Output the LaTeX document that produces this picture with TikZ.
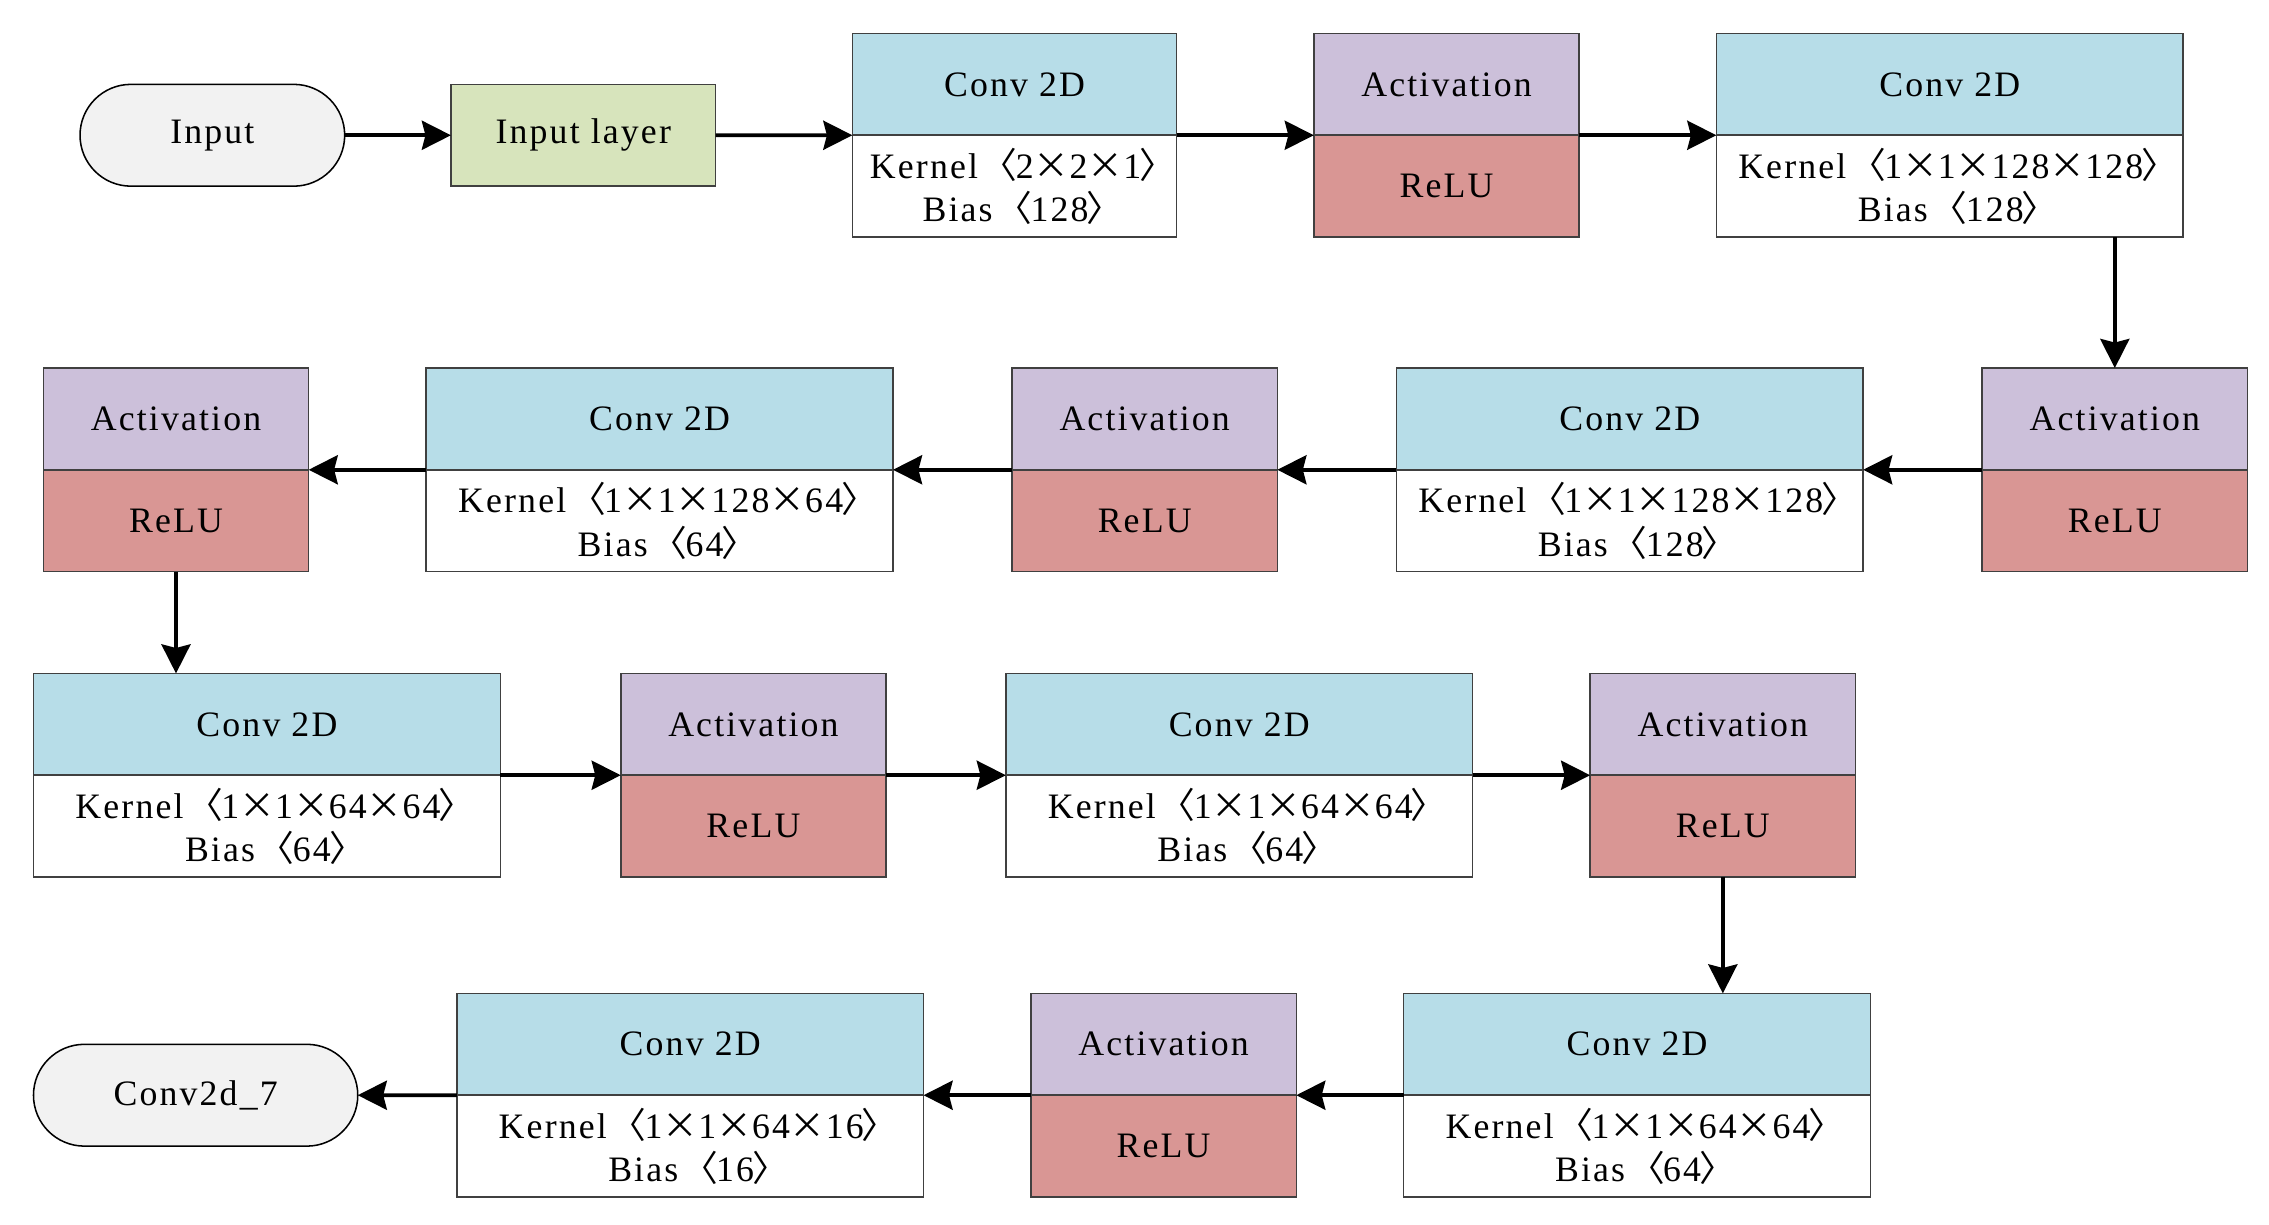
\documentclass[tikz,border=0pt]{standalone}
\usepackage{fontspec}
\setmainfont{Liberation Serif}[LetterSpace=6.0]
\newfontfamily\cjk{Noto Sans CJK SC}
\usetikzlibrary{arrows.meta,shapes.misc}
\definecolor{convblue}{HTML}{B7DDE8}
\definecolor{actpurple}{HTML}{CCC0DA}
\definecolor{relured}{HTML}{D99694}
\definecolor{inlayer}{HTML}{D7E4BC}
\definecolor{pillgray}{HTML}{F2F2F2}
\definecolor{edgegray}{HTML}{404040}
\newcommand{\lb}{\kern-0.2em{\cjk 〈}\kern-0.05em}
\newcommand{\rb}{\kern-0.05em{\cjk 〉}\kern-0.45em}
\newcommand{\tm}{{\cjk ×}}
\tikzset{
  part/.style={draw=edgegray, line width=0.6pt, minimum height=1.4cm, inner sep=0pt, outer sep=0pt, align=center, font=\fontsize{14pt}{17pt}\selectfont},
  wconv/.style={minimum width=6.42cm},
  wconvs/.style={minimum width=4.46cm},
  wact/.style={minimum width=3.65cm},
  convtop/.style={part, fill=convblue},
  convbot/.style={part, fill=white},
  acttop/.style={part, fill=actpurple, wact},
  actbot/.style={part, fill=relured, wact},
  layerbox/.style={part, fill=inlayer, minimum width=3.64cm},
  pill/.style={part, draw=black, fill=pillgray, rounded rectangle},
  flow/.style={-{Stealth[length=0.4cm,width=0.4cm,inset=0.05cm]}, line width=1.4pt, black}
}
\begin{document}
\begin{tikzpicture}[x=0.02cm,y=-0.02cm]
\useasboundingbox (0,0) rectangle (1560,842.2);
% Row 1
\node[pill, minimum width=3.64cm] (in) at (146,93) {Input};
\node[layerbox] (il) at (401,93) {Input layer};
\node[convtop, wconvs] (c1t) at (697.5,58) {Conv 2D};
\node[convbot, wconvs] (c1b) at (697.5,128) {Kernel \lb2\tm2\tm1\rb\\Bias \lb128\rb};
\node[acttop] (a1t) at (994.5,58) {Activation};
\node[actbot] (a1b) at (994.5,128) {ReLU};
\node[convtop, wconv] (c2t) at (1340.5,58) {Conv 2D};
\node[convbot, wconv] (c2b) at (1340.5,128) {Kernel \lb1\tm1\tm128\tm128\rb\\Bias \lb128\rb};
% Row 2
\node[acttop] (a2t) at (1454,288) {Activation};
\node[actbot] (a2b) at (1454,358) {ReLU};
\node[convtop, wconv] (c3t) at (1120.5,288) {Conv 2D};
\node[convbot, wconv] (c3b) at (1120.5,358) {Kernel \lb1\tm1\tm128\tm128\rb\\Bias \lb128\rb};
\node[acttop] (a3t) at (787,288) {Activation};
\node[actbot] (a3b) at (787,358) {ReLU};
\node[convtop, wconv] (c4t) at (453.5,288) {Conv 2D};
\node[convbot, wconv] (c4b) at (453.5,358) {Kernel \lb1\tm1\tm128\tm64\rb\\Bias \lb64\rb};
\node[acttop] (a4t) at (121,288) {Activation};
\node[actbot] (a4b) at (121,358) {ReLU};
% Row 3
\node[convtop, wconv] (c5t) at (183.5,498) {Conv 2D};
\node[convbot, wconv] (c5b) at (183.5,568) {Kernel \lb1\tm1\tm64\tm64\rb\\Bias \lb64\rb};
\node[acttop] (a5t) at (518,498) {Activation};
\node[actbot] (a5b) at (518,568) {ReLU};
\node[convtop, wconv] (c6t) at (852,498) {Conv 2D};
\node[convbot, wconv] (c6b) at (852,568) {Kernel \lb1\tm1\tm64\tm64\rb\\Bias \lb64\rb};
\node[acttop] (a6t) at (1184.5,498) {Activation};
\node[actbot] (a6b) at (1184.5,568) {ReLU};
% Row 4
\node[convtop, wconv] (c7t) at (1125.5,718) {Conv 2D};
\node[convbot, wconv] (c7b) at (1125.5,788) {Kernel \lb1\tm1\tm64\tm64\rb\\Bias \lb64\rb};
\node[acttop] (a7t) at (800,718) {Activation};
\node[actbot] (a7b) at (800,788) {ReLU};
\node[convtop, wconv] (c8t) at (474.5,718) {Conv 2D};
\node[convbot, wconv] (c8b) at (474.5,788) {Kernel \lb1\tm1\tm64\tm16\rb\\Bias \lb16\rb};
\node[pill, minimum width=4.46cm] (out) at (134.5,753) {Conv2d\_7};
% Connectors
\draw[flow] (in.east) -- (il.west);
\draw[flow] (il.east) -- (c1t.south west);
\draw[flow] (c1t.south east) -- (a1t.south west);
\draw[flow] (a1t.south east) -- (c2t.south west);
\draw[flow] (c2b.south -| a2t.north) -- (a2t.north);
\draw[flow] (a2t.south west) -- (c3t.south east);
\draw[flow] (c3t.south west) -- (a3t.south east);
\draw[flow] (a3t.south west) -- (c4t.south east);
\draw[flow] (c4t.south west) -- (a4t.south east);
\draw[flow] (a4b.south) -- (a4b.south |- c5t.north);
\draw[flow] (c5t.south east) -- (a5t.south west);
\draw[flow] (a5t.south east) -- (c6t.south west);
\draw[flow] (c6t.south east) -- (a6t.south west);
\draw[flow] (a6b.south) -- (a6b.south |- c7t.north);
\draw[flow] (c7t.south west) -- (a7t.south east);
\draw[flow] (a7t.south west) -- (c8t.south east);
\draw[flow] (c8t.south west) -- (out.east);
\end{tikzpicture}
\end{document}
